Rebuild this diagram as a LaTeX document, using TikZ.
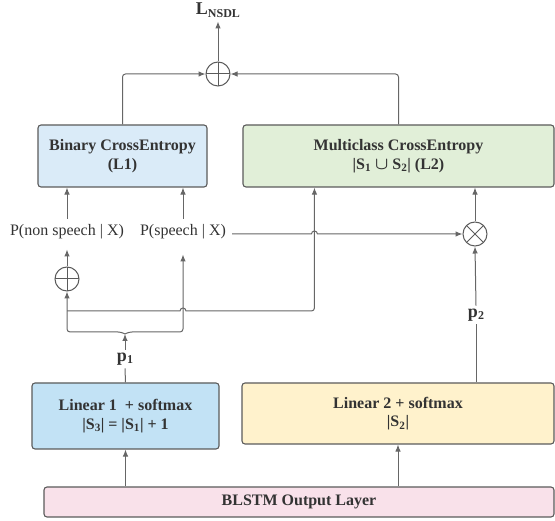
\documentclass[tikz,border=0pt]{standalone}
\usepackage{fontspec}
\setmainfont{Liberation Serif}
\usepackage{amsmath}
\usetikzlibrary{arrows.meta, calc}

\definecolor{bcefill}{HTML}{DAEBF8}
\definecolor{mcefill}{HTML}{E1EFD8}
\definecolor{linonefill}{HTML}{C2E2F5}
\definecolor{lintwofill}{HTML}{FFF2CC}
\definecolor{blstmfill}{HTML}{F9E1EA}
\definecolor{edgegray}{HTML}{5B5B5B}
\definecolor{linegray}{HTML}{666666}
\definecolor{textgray}{HTML}{333333}

\begin{document}
\begin{tikzpicture}[
            x=1pt, y=-1pt,
            font=\fontsize{16}{18}\selectfont, text=textgray,
            block/.style={draw=edgegray, rectangle, rounded corners=3pt, align=center, line width=1.1pt, font=\fontsize{16}{18.5}\selectfont\bfseries},
            arrow/.style={-{Latex[length=7pt,width=5.5pt]}, draw=linegray, line width=1pt},
            line/.style={draw=linegray, line width=1pt},
            lbl/.style={inner sep=6pt},
            sumop/.style={circle, draw=edgegray, line width=1pt, minimum size=24pt, inner sep=0pt,
                path picture={\draw[edgegray, line width=1pt] (path picture bounding box.north) -- (path picture bounding box.south) (path picture bounding box.west) -- (path picture bounding box.east);}},
            prodop/.style={circle, draw=edgegray, line width=1pt, minimum size=24pt, inner sep=0pt,
                path picture={\draw[edgegray, line width=1pt] (path picture bounding box.north west) -- (path picture bounding box.south east) (path picture bounding box.north east) -- (path picture bounding box.south west);}}
        ]
        \useasboundingbox (0,0) rectangle (555,521);

        \node[block, fill=blstmfill, minimum width=510pt, minimum height=30pt] (blstm) at (299,502) {BLSTM Output Layer};
        \node[block, fill=linonefill, minimum width=187pt, minimum height=66pt] (lin1) at (125.5,416) {Linear 1\ \ + softmax\\|S\textsubscript{3}| = |S\textsubscript{1}| + 1};
        \node[block, fill=lintwofill, minimum width=312pt, minimum height=61pt] (lin2) at (398,413.5) {Linear 2 + softmax\\|S\textsubscript{2}|};
        \node[block, fill=bcefill, minimum width=169pt, minimum height=62pt] (bce) at (122.5,156) {Binary CrossEntropy\\(L1)};
        \node[block, fill=mcefill, minimum width=311pt, minimum height=62pt] (mce) at (398.5,156) {Multiclass CrossEntropy\\|S\textsubscript{1}\ {\boldmath$\cup$}\ S\textsubscript{2}| (L2)};

        \node[lbl] (pns) at (67,232) {P(non speech | X)};
        \node[lbl] (ps) at (183,232) {P(speech | X)};
        \node[inner sep=3pt, font=\fontsize{18}{18}\selectfont\bfseries] (p1) at (125,359) {p\raisebox{-0.25ex}{\fontsize{12}{12}\selectfont 1}};
        \node[inner sep=3pt, font=\fontsize{18}{18}\selectfont\bfseries] (p2) at (476,315) {p\raisebox{-0.25ex}{\fontsize{12}{12}\selectfont 2}};
        \node[inner sep=4pt, font=\fontsize{18}{18}\selectfont\bfseries] (loss) at (218,10) {L\raisebox{-0.3ex}{\fontsize{12}{12}\selectfont NSDL}};

        \node[sumop] (sumtop) at (218,74) {};
        \node[sumop] (sumnsp) at (67,279) {};
        \node[prodop] (mult) at (475,234) {};

        \coordinate (brc) at (125,334);
        \coordinate (tee) at (67,311);
        \coordinate (mcein) at ($(mce.south west)+(72,0)$);

        % lower layers
        \draw[arrow] (lin1.south |- blstm.north) -- (lin1.south);
        \draw[arrow] (lin2.south |- blstm.north) -- (lin2.south);
        \draw[line] (lin1.north) -- (p1.south);
        \draw[arrow] (p1.north) -- (brc);
        \draw[line] (lin2.north -| p2) -- (p2.south);
        \draw[arrow] (p2.north) -- (mult.south);

        % brace split
        \draw[arrow, rounded corners=3pt] (brc) -- ++(-4,-2) -| (sumnsp.south);
        \draw[arrow, rounded corners=3pt, shorten >=9pt] (brc) -- ++(4,-2) -| (ps.south);
        \draw[arrow] (tee) -- ($(tee -| ps)+(-3,0)$) arc[start angle=180, end angle=360, radius=3] [rounded corners=3pt] -| (mcein);

        \draw[arrow, shorten >=4pt] (sumnsp.north) -- (pns.south);
        \draw[arrow] (pns.north) -- (bce.south -| pns);
        \draw[arrow] (ps.north) -- (bce.south -| ps);
        \draw[arrow] (ps.east |- mult) -- ($(mcein |- mult)+(-3,0)$) arc[start angle=180, end angle=360, radius=3] -- (mult.west);
        \draw[arrow] (mult.north) -- (mce.south -| mult);

        % losses
        \draw[arrow, rounded corners=3pt] (bce.north) |- (sumtop.west);
        \draw[arrow, rounded corners=3pt] (mce.north) |- (sumtop.east);
        \draw[arrow] (sumtop.north) -- (loss.south);

\end{tikzpicture}
\end{document}
